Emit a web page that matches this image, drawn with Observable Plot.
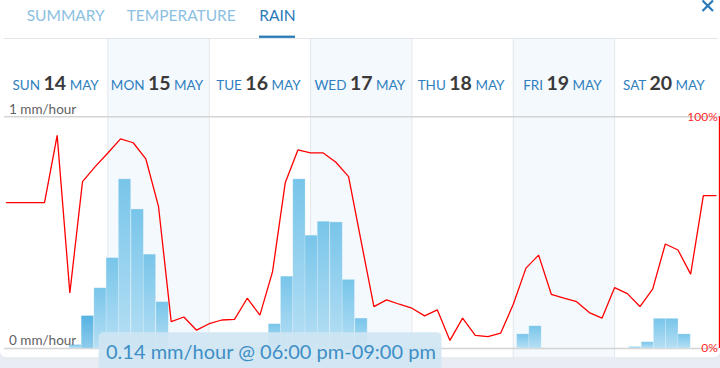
<!DOCTYPE html>
<html><head><meta charset="utf-8">
<script src="https://cdn.jsdelivr.net/npm/d3@7"></script>
<script src="https://cdn.jsdelivr.net/npm/@observablehq/plot@0.6"></script>
<style>
html,body{margin:0;padding:0;background:#fff;}
#wrap{position:relative;width:720px;height:368px;overflow:hidden;background:#e9edf3;font-family:Lato,"Open Sans",sans-serif;}
#card{position:absolute;left:0;top:0;width:720px;height:357px;background:#fff;border-radius:0 0 6px 6px;}
#chart{position:absolute;left:0;top:0;}
</style></head>
<body><div id="wrap"><div id="card"></div><div id="chart"></div></div>
<script>
// ---- data ----
const tabs = ["SUMMARY", "TEMPERATURE", "RAIN"];
const dayNames = ["SUN", "MON", "TUE", "WED", "THU", "FRI", "SAT"];
const dayDates = ["14", "15", "16", "17", "18", "19", "20"];
const monthName = "MAY";
const shadedDays = [1, 3, 5];
// chance of rain (%), every 3 hours from Sun 00:00
const probPct = [63,63,63,63,92,24,72,78.5,84.4,90.5,88.8,81.8,61.2,11.6,13.6,7.9,10.7,12.3,12.6,21.7,14.4,33.2,71.5,85.7,84.4,84.4,80.4,74.2,46,18.1,21,19.1,17.4,14.1,16.7,3.5,13.1,5.7,5.1,6.6,19.1,34.7,40.3,23.4,21.7,20.2,15.5,13.1,26.3,23.7,18.1,25.6,45.1,42.5,32.1,66,66];
// rain periods: start (hours from Sun 00:00) and intensity (mm/hour)
const rainStart = [14.9,17.8,20.8,23.7,26.6,29.6,32.5,35.5, 62.1,65.0,67.9,70.8,73.7,76.7,79.6,82.6, 120.9,123.8, 147.4,150.4,153.3,156.2,159.1];
const rainMm    = [0.015,0.14,0.26,0.39,0.73,0.60,0.405,0.20, 0.105,0.31,0.73,0.487,0.547,0.544,0.296,0.129, 0.061,0.096, 0.006,0.027,0.128,0.128,0.061];
const selectedBar = 1;
const yTickLabels = ["1 mm/hour", "0 mm/hour"];
const pctTickLabels = ["100%", "0%"];
const tooltipText = "0.14 mm/hour @ 06:00 pm-09:00 pm";

const barHours = 2.92;
const rain = rainStart.map((s, i) => ({s, mm: rainMm[i], sel: i === selectedBar}));
const prob = probPct.map((p, i) => ({t: i * 3, p}));
const font = "Lato, 'Open Sans', sans-serif";

const chart = Plot.plot({
  width: 720, height: 368,
  marginTop: 39, marginBottom: 11, marginLeft: 4, marginRight: 1,
  x: {domain: [0, 168], range: [6, 715.5], axis: null},
  y: {domain: [0, 1], range: [348, 116.3], axis: null},
  style: {background: "transparent", fontFamily: font},
  marks: [
    Plot.rect(shadedDays, {x1: d => d * 24, x2: d => (d + 1) * 24, fill: "#f4f9fd"}),
    Plot.ruleX([1, 2, 3, 4, 5, 6], {x: d => d * 24, stroke: "#e3e7eb", strokeWidth: 1}),
    Plot.ruleY([1], {stroke: "#d4d4d4", strokeWidth: 1.5}),
    Plot.ruleY([0], {stroke: "#d4d4d4", strokeWidth: 1.5}),
    Plot.rect(rain.filter(d => !d.sel), {x1: d => d.s, x2: d => d.s + barHours, y1: 0, y2: d => d.mm, fill: "url(#gBar)", stroke: "#ffffff", strokeOpacity: 0.25, strokeWidth: 0.8}),
    Plot.rect(rain.filter(d => d.sel), {x1: d => d.s, x2: d => d.s + barHours, y1: 0, y2: d => d.mm, fill: "url(#gSel)", stroke: "#ffffff", strokeOpacity: 0.25, strokeWidth: 0.8}),
    Plot.line(prob, {x: "t", y: d => d.p / 100, stroke: "#ff0000", strokeWidth: 1.3, strokeLinejoin: "miter"}),
    Plot.ruleX([168], {y1: 0, y2: 1, stroke: "#ff0000", strokeWidth: 1.5, dx: 3.6}),
    Plot.text(pctTickLabels, {x: 168, y: (d, i) => 1 - i, text: d => d, textAnchor: "end", dx: 1.8, fill: "#ff2a2a", fontSize: 12}),
    Plot.text(yTickLabels, {x: 0, y: (d, i) => 1 - i, text: d => d, textAnchor: "start", dx: 2.5, dy: -7.5, fill: "#5f5f5f", fontSize: 13.5})
  ]
});
document.getElementById("chart").appendChild(chart);

const svg = d3.select(chart);
const xs = chart.scale("x");
const defs = svg.insert("defs", ":first-child");
function grad(id, top, bottom) {
  const g = defs.append("linearGradient").attr("id", id).attr("x1", 0).attr("y1", 0).attr("x2", 0).attr("y2", 1);
  g.append("stop").attr("offset", "0%").attr("stop-color", top);
  g.append("stop").attr("offset", "100%").attr("stop-color", bottom);
}
grad("gBar", "#78c5ea", "#b6dff4");
grad("gSel", "#55b3e1", "#8ecbed");

// tabs
const tabX = [26.7, 126.7, 259.3];
const tabG = svg.append("g").attr("font-family", font).attr("font-size", 15.5).attr("text-anchor", "start");
tabs.forEach((t, i) => {
  tabG.append("text").attr("x", tabX[i]).attr("y", 20.7).attr("fill", i === 2 ? "#2a7ab8" : "#8cc0e2").text(t);
});
svg.append("rect").attr("x", 259).attr("y", 35.6).attr("width", 36).attr("height", 2.3).attr("fill", "#2a7ab8");
svg.append("line").attr("x1", 4).attr("x2", 718).attr("y1", 38.5).attr("y2", 38.5).attr("stroke", "#e2e5e9");
// close icon
svg.append("path").attr("d", "M702.5,0.5L713,11M713,0.5L702.5,11").attr("stroke", "#2a7ab8").attr("stroke-width", 2.2).attr("fill", "none");

// day headers
const hg = svg.append("g").attr("font-family", font).attr("text-anchor", "middle").style("white-space", "pre");
dayNames.forEach((n, i) => {
  const t = hg.append("text").attr("x", xs.apply(12 + 24 * i) - 1).attr("y", 90);
  t.append("tspan").attr("font-size", 13.5).attr("fill", "#2f7fc0").text(n + " ");
  t.append("tspan").attr("font-size", 19.5).attr("font-weight", 700).attr("fill", "#3a3a3a").text(dayDates[i]);
  t.append("tspan").attr("font-size", 13.5).attr("fill", "#2f7fc0").text(" " + monthName);
});

// tooltip
svg.append("rect").attr("x", 98.5).attr("y", 332.3).attr("width", 343).attr("height", 50).attr("rx", 5)
  .attr("fill", "#cfe5f3").attr("fill-opacity", 0.9);
svg.append("text").attr("x", 106).attr("y", 359.3).attr("font-family", font).attr("font-size", 20)
  .attr("text-anchor", "start").attr("fill", "#3e8ec6").text(tooltipText);
</script>
</body></html>
